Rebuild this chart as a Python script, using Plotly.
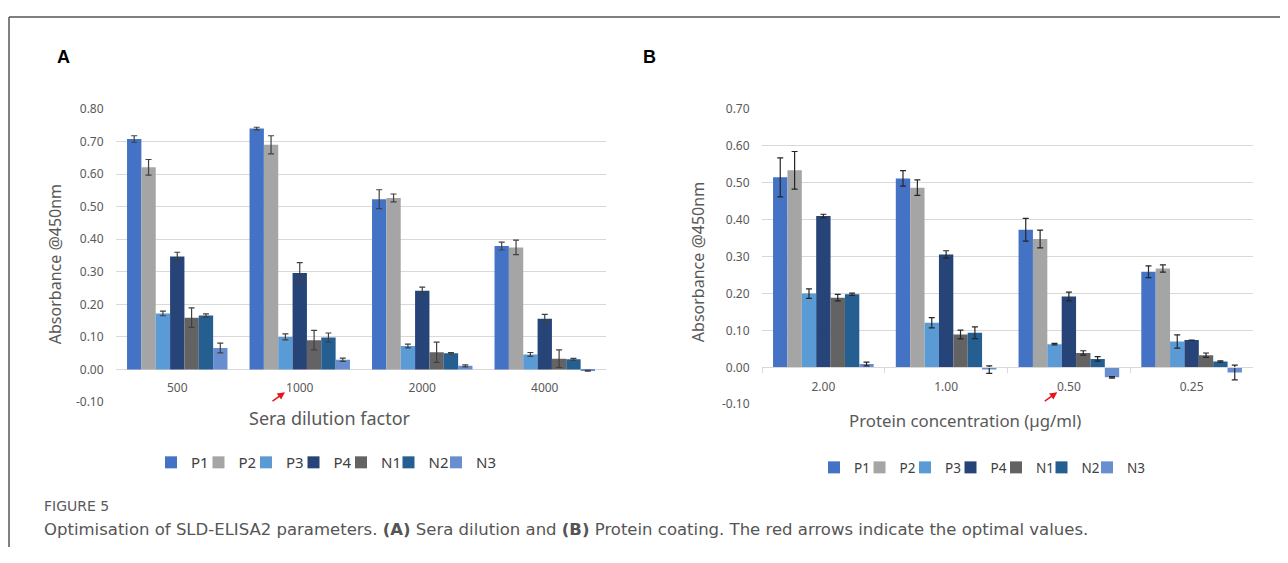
import plotly.graph_objects as go

# page body has an 8px margin, so the figure is sized to fit the window
OFF = 8
W, H = 1288 - 2 * OFF, 563 - 2 * OFF
# empirical vertical placement of the page in the screenshot
YS, YB = 0.967, 17.3

series = ["P1", "P2", "P3", "P4", "N1", "N2", "N3"]
colors = ["#4472C4", "#A5A5A5", "#5B9BD5", "#264478", "#636363", "#255E91", "#698ED0"]

# Panel A: sera dilution
cats_a = ["500", "1000", "2000", "4000"]
vals_a = {
    "P1": [0.708, 0.740, 0.523, 0.379],
    "P2": [0.621, 0.690, 0.527, 0.375],
    "P3": [0.172, 0.100, 0.072, 0.046],
    "P4": [0.347, 0.296, 0.242, 0.156],
    "N1": [0.159, 0.090, 0.053, 0.033],
    "N2": [0.166, 0.098, 0.050, 0.031],
    "N3": [0.066, 0.030, 0.011, -0.004],
}
err_a = {
    "P1": [0.010, 0.004, 0.029, 0.012],
    "P2": [0.024, 0.028, 0.012, 0.022],
    "P3": [0.007, 0.009, 0.006, 0.006],
    "P4": [0.013, 0.032, 0.011, 0.013],
    "N1": [0.030, 0.030, 0.031, 0.027],
    "N2": [0.005, 0.014, 0.002, 0.003],
    "N3": [0.015, 0.005, 0.003, 0.001],
}
yticks_a = [-0.1, 0.0, 0.1, 0.2, 0.3, 0.4, 0.5, 0.6, 0.7, 0.8]
yticktext_a = ["-0.10", "0.00", "0.10", "0.20", "0.30", "0.40", "0.50", "0.60", "0.70", "0.80"]

# Panel B: protein coating
cats_b = ["2.00", "1.00", "0.50", "0.25"]
vals_b = {
    "P1": [0.515, 0.512, 0.373, 0.259],
    "P2": [0.534, 0.487, 0.348, 0.268],
    "P3": [0.200, 0.121, 0.063, 0.070],
    "P4": [0.410, 0.306, 0.192, 0.074],
    "N1": [0.189, 0.089, 0.039, 0.033],
    "N2": [0.198, 0.094, 0.023, 0.016],
    "N3": [0.009, -0.006, -0.027, -0.014],
}
err_b = {
    "P1": [0.053, 0.021, 0.031, 0.016],
    "P2": [0.051, 0.021, 0.024, 0.010],
    "P3": [0.013, 0.014, 0.002, 0.018],
    "P4": [0.005, 0.010, 0.012, 0.000],
    "N1": [0.009, 0.012, 0.006, 0.006],
    "N2": [0.003, 0.016, 0.006, 0.002],
    "N3": [0.005, 0.010, 0.002, 0.020],
}
yticks_b = [-0.1, 0.0, 0.1, 0.2, 0.3, 0.4, 0.5, 0.6, 0.7]
yticktext_b = ["-0.10", "0.00", "0.10", "0.20", "0.30", "0.40", "0.50", "0.60", "0.70"]


def px(x):
    return (x - OFF) / W


def py(y):
    yf = (y - YB) / YS
    return min(1.0, max(0.0, 1 - yf / H))


fig = go.Figure()

for s, c in zip(series, colors):
    fig.add_trace(go.Bar(
        x=cats_a, y=vals_a[s], name=s, marker_color=c, marker_line_width=0,
        error_y=dict(type="data", array=err_a[s], color="#404040", thickness=1.2, width=3),
        xaxis="x", yaxis="y", legend="legend",
    ))
for s, c in zip(series, colors):
    fig.add_trace(go.Bar(
        x=cats_b, y=vals_b[s], name=s, marker_color=c, marker_line_width=0,
        error_y=dict(type="data", array=err_b[s], color="#262626", thickness=1.2, width=3),
        xaxis="x2", yaxis="y2", legend="legend2",
    ))
# invisible spacer entries so the last legend label is not clipped
for ax_, ay_, lg in [("x", "y", "legend"), ("x2", "y2", "legend2")]:
    fig.add_trace(go.Scatter(x=[None], y=[None], mode="markers", name=" ",
                             marker=dict(color="rgba(0,0,0,0)"), xaxis=ax_, yaxis=ay_,
                             legend=lg, hoverinfo="skip"))

tickfont = dict(family="Noto Sans", size=12, color="#595959")
grid = "#d9d9d9"

# Panel A geometry (target pixels)
ax0, ax1 = 116, 606
ay_top, ay_bot = 109, 401.7
ay_zero = 369.3
# Panel B geometry
bx0, bx1 = 762, 1253
by_top, by_bot = 109, 404
by_zero = 367

fig.update_layout(
    width=W, height=H,
    margin=dict(l=0, r=0, t=0, b=0),
    paper_bgcolor="white", plot_bgcolor="white",
    barmode="group", bargap=0.18, bargroupgap=0,
    xaxis=dict(domain=[px(ax0), px(ax1)], anchor="free", position=py(ay_zero),
               tickfont=tickfont, showgrid=False, showline=False, ticks="outside",
               ticklen=7, tickcolor="rgba(0,0,0,0)", zeroline=False),
    yaxis=dict(domain=[py(ay_bot), py(ay_top)], range=[-0.1005, 0.8005], anchor="free",
               position=px(ax0), tickvals=yticks_a, ticktext=yticktext_a, tickfont=tickfont,
               showgrid=True, gridcolor=grid, gridwidth=1, zeroline=True, zerolinecolor=grid,
               zerolinewidth=1, ticks="outside", ticklen=10, tickcolor="rgba(0,0,0,0)",
               showline=False),
    xaxis2=dict(domain=[px(bx0), px(bx1)], anchor="free", position=py(by_zero),
                tickfont=tickfont, showgrid=False, showline=True, linecolor=grid, linewidth=1,
                ticks="outside", tickson="boundaries", ticklen=5, tickcolor=grid,
                ticklabelstandoff=8, zeroline=False),
    yaxis2=dict(domain=[py(by_bot), py(by_top)], range=[-0.1005, 0.7005], anchor="free",
                position=px(bx0), tickvals=yticks_b, ticktext=yticktext_b, tickfont=tickfont,
                showgrid=True, gridcolor=grid, gridwidth=1, zeroline=True, zerolinecolor=grid,
                zerolinewidth=1, ticks="outside", ticklen=10, tickcolor="rgba(0,0,0,0)",
                showline=False),
    legend=dict(orientation="h", x=px(151), y=py(462), xanchor="left", yanchor="middle",
                font=dict(family="Noto Sans", size=15, color="#404040"),
                itemwidth=30, entrywidth=2.5, entrywidthmode="pixels",
                bgcolor="rgba(0,0,0,0)"),
    legend2=dict(orientation="h", x=px(814), y=py(467), xanchor="left", yanchor="middle",
                 font=dict(family="Noto Sans", size=13.5, color="#404040"),
                 itemwidth=30, entrywidth=0.5, entrywidthmode="pixels",
                 bgcolor="rgba(0,0,0,0)"),
    showlegend=True,
)

ann = []
ann.append(dict(text="<b>A</b>", x=px(63), y=py(57), xref="paper", yref="paper", showarrow=False,
                font=dict(family="Liberation Sans", size=18, color="black"), xanchor="center", yanchor="middle"))
ann.append(dict(text="<b>B</b>", x=px(649), y=py(57), xref="paper", yref="paper", showarrow=False,
                font=dict(family="Liberation Sans", size=18, color="black"), xanchor="center", yanchor="middle"))
ytitlefont = dict(family="Noto Sans", size=16, color="#595959")
ann.append(dict(text="Absorbance @450nm", x=px(55), y=py(264), xref="paper", yref="paper",
                showarrow=False, textangle=-90, font=ytitlefont, xanchor="center", yanchor="middle"))
ann.append(dict(text="Absorbance @450nm", x=px(698), y=py(262), xref="paper", yref="paper",
                showarrow=False, textangle=-90, font=ytitlefont, xanchor="center", yanchor="middle"))
ann.append(dict(text="Sera dilution factor", x=px(330), y=py(418), xref="paper", yref="paper",
                showarrow=False, font=dict(family="Noto Sans", size=18, color="#595959"),
                xanchor="center", yanchor="middle"))
ann.append(dict(text="Protein concentration (µg/ml)", x=px(965), y=py(420), xref="paper", yref="paper",
                showarrow=False, font=dict(family="Noto Sans", size=16.8, color="#595959"),
                xanchor="center", yanchor="middle"))
# red arrows
for hx, hy in [(285, 391.7), (1057.3, 391.7)]:
    ann.append(dict(text="", x=px(hx), y=py(hy), xref="paper", yref="paper", showarrow=True,
                    ax=-14, ay=10, arrowhead=2, arrowsize=1, arrowwidth=1.5, arrowcolor="#e8141b"))
# caption
ann.append(dict(text="FIGURE 5", x=px(42), y=py(505), xref="paper", yref="paper", showarrow=False,
                font=dict(family="DejaVu Sans", size=14, color="#5a5a5a"), xanchor="left", yanchor="middle"))
ann.append(dict(text="Optimisation of SLD-ELISA2 parameters. <b>(A)</b> Sera dilution and <b>(B)</b> Protein coating. The red arrows indicate the optimal values.",
                x=px(42), y=py(529), xref="paper", yref="paper", showarrow=False,
                font=dict(family="DejaVu Sans", size=16.5, color="#555555"), xanchor="left", yanchor="middle"))
fig.update_layout(annotations=ann)

# frame lines
fig.add_shape(type="line", xref="paper", yref="paper", x0=0.0008, x1=1, y0=py(10), y1=py(10),
              line=dict(color="#555555", width=1.5))
fig.add_shape(type="line", xref="paper", yref="paper", x0=0.0008, x1=0.0008, y0=py(10), y1=0,
              line=dict(color="#555555", width=1.5))

fig.write_html("out.html")
